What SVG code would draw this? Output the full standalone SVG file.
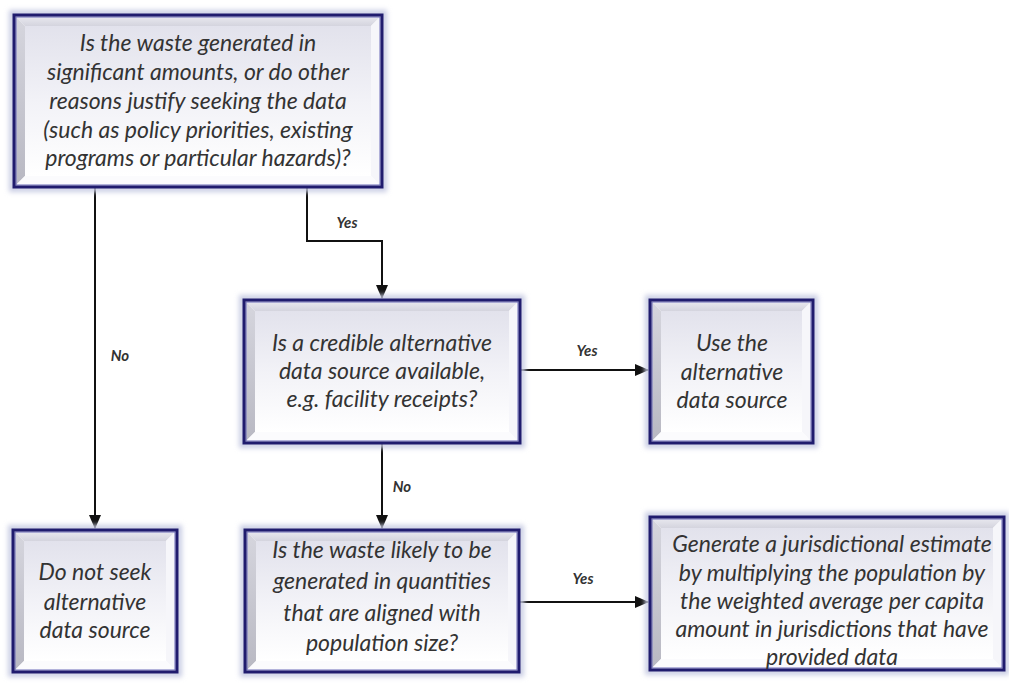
<svg xmlns="http://www.w3.org/2000/svg" width="1009" height="684" viewBox="0 0 1009 684">
  <defs>
    <linearGradient id="face" x1="0" y1="0" x2="0" y2="1">
      <stop offset="0" stop-color="#e2e2ec"/>
      <stop offset="0.5" stop-color="#f2f2f7"/>
      <stop offset="1" stop-color="#ffffff"/>
    </linearGradient>
    <linearGradient id="bevTop" x1="0" y1="0" x2="0" y2="1">
      <stop offset="0" stop-color="#ececf2"/>
      <stop offset="1" stop-color="#d4d4de"/>
    </linearGradient>
    <linearGradient id="bevLeft" x1="0" y1="0" x2="0" y2="1">
      <stop offset="0" stop-color="#d6d6de"/>
      <stop offset="1" stop-color="#b8b8c2"/>
    </linearGradient>
    <filter id="halo" x="-10%" y="-10%" width="120%" height="120%">
      <feGaussianBlur stdDeviation="2.5"/>
    </filter>
    <marker id="arrow" viewBox="0 0 14 12" refX="13" refY="6" markerWidth="14" markerHeight="12" markerUnits="userSpaceOnUse" orient="auto">
      <path d="M0,0 L14,6 L0,12 Z" fill="#111"/>
    </marker>
  </defs>
  <style>
    .halo { fill: none; stroke: #c9cde4; stroke-width: 6; filter: url(#halo); }
    .bt { fill: url(#bevTop); }
    .bl { fill: url(#bevLeft); }
    .br { fill: #f6f6fa; }
    .bb { fill: #fbfbfd; }
    .face { fill: url(#face); }
    .frame { fill: none; stroke: #201c6e; stroke-width: 3; }
    .inner { fill: none; stroke: #6a6ab8; stroke-width: 1; }
    .t { font-family: Lato, "Liberation Sans", sans-serif; font-style: italic; font-size: 23px; fill: #333; text-anchor: middle; }
    .lbl { font-family: Lato, "Liberation Sans", sans-serif; font-style: italic; font-weight: bold; font-size: 15px; fill: #333; text-anchor: middle; }
    .wire { fill: none; stroke: #111; stroke-width: 2; }
  </style>

  <rect width="1009" height="684" fill="#ffffff"/>

  <!-- connectors -->
  <g id="connectors">
    <path class="wire" d="M95,188 V528" marker-end="url(#arrow)"/>
    <path class="wire" d="M307,188 V241 H382 V298" marker-end="url(#arrow)"/>
    <path class="wire" d="M521,370 H648" marker-end="url(#arrow)"/>
    <path class="wire" d="M382,444 V528" marker-end="url(#arrow)"/>
    <path class="wire" d="M520,602 H648" marker-end="url(#arrow)"/>
    <text class="lbl" x="120" y="361">No</text>
    <text class="lbl" x="347" y="228">Yes</text>
    <text class="lbl" x="587" y="356">Yes</text>
    <text class="lbl" x="402" y="492">No</text>
    <text class="lbl" x="583" y="584">Yes</text>
  </g>

  <!-- question: significance of the waste -->
  <g id="q-significance">
    <rect class="halo" x="12" y="13" width="372" height="176"/>
    <polygon class="bt" points="14,15 382,15 371,26 25,26"/>
    <polygon class="bl" points="14,15 25,26 25,176 14,187"/>
    <polygon class="br" points="382,15 382,187 371,176 371,26"/>
    <polygon class="bb" points="14,187 25,176 371,176 382,187"/>
    <rect class="face" x="25" y="26" width="346" height="150"/>
    <rect class="inner" x="16" y="17" width="364" height="168"/>
    <rect class="frame" x="14" y="15" width="368" height="172"/>
    <text class="t" x="198" y="51">Is the waste generated in</text>
    <text class="t" x="198" y="80">significant amounts, or do other</text>
    <text class="t" x="198" y="109">reasons justify seeking the data</text>
    <text class="t" x="198" y="138">(such as policy priorities, existing</text>
    <text class="t" x="198" y="166">programs or particular hazards)?</text>
  </g>

  <!-- question: alternative data source -->
  <g id="q-alternative">
    <rect class="halo" x="242" y="298" width="280" height="147"/>
    <polygon class="bt" points="244,300 520,300 509,311 255,311"/>
    <polygon class="bl" points="244,300 255,311 255,432 244,443"/>
    <polygon class="br" points="520,300 520,443 509,432 509,311"/>
    <polygon class="bb" points="244,443 255,432 509,432 520,443"/>
    <rect class="face" x="255" y="311" width="254" height="121"/>
    <rect class="inner" x="246" y="302" width="272" height="139"/>
    <rect class="frame" x="244" y="300" width="276" height="143"/>
    <text class="t" x="382" y="351">Is a credible alternative</text>
    <text class="t" x="382" y="379">data source available,</text>
    <text class="t" x="382" y="407">e.g. facility receipts?</text>
  </g>

  <!-- outcome: use the alternative source -->
  <g id="use-alternative">
    <rect class="halo" x="648" y="298" width="167" height="147"/>
    <polygon class="bt" points="650,300 813,300 802,311 661,311"/>
    <polygon class="bl" points="650,300 661,311 661,432 650,443"/>
    <polygon class="br" points="813,300 813,443 802,432 802,311"/>
    <polygon class="bb" points="650,443 661,432 802,432 813,443"/>
    <rect class="face" x="661" y="311" width="141" height="121"/>
    <rect class="inner" x="652" y="302" width="159" height="139"/>
    <rect class="frame" x="650" y="300" width="163" height="143"/>
    <text class="t" x="732" y="351">Use the</text>
    <text class="t" x="732" y="380">alternative</text>
    <text class="t" x="732" y="408">data source</text>
  </g>

  <!-- outcome: do not seek -->
  <g id="do-not-seek">
    <rect class="halo" x="11" y="528" width="168" height="146"/>
    <polygon class="bt" points="13,530 177,530 166,541 24,541"/>
    <polygon class="bl" points="13,530 24,541 24,661 13,672"/>
    <polygon class="br" points="177,530 177,672 166,661 166,541"/>
    <polygon class="bb" points="13,672 24,661 166,661 177,672"/>
    <rect class="face" x="24" y="541" width="142" height="120"/>
    <rect class="inner" x="15" y="532" width="160" height="138"/>
    <rect class="frame" x="13" y="530" width="164" height="142"/>
    <text class="t" x="95" y="580">Do not seek</text>
    <text class="t" x="95" y="610">alternative</text>
    <text class="t" x="95" y="638">data source</text>
  </g>

  <!-- question: population alignment -->
  <g id="q-population">
    <rect class="halo" x="243" y="528" width="278" height="146"/>
    <polygon class="bt" points="245,530 519,530 508,541 256,541"/>
    <polygon class="bl" points="245,530 256,541 256,661 245,672"/>
    <polygon class="br" points="519,530 519,672 508,661 508,541"/>
    <polygon class="bb" points="245,672 256,661 508,661 519,672"/>
    <rect class="face" x="256" y="541" width="252" height="120"/>
    <rect class="inner" x="247" y="532" width="270" height="138"/>
    <rect class="frame" x="245" y="530" width="274" height="142"/>
    <text class="t" x="382" y="558">Is the waste likely to be</text>
    <text class="t" x="382" y="589">generated in quantities</text>
    <text class="t" x="382" y="621">that are aligned with</text>
    <text class="t" x="382" y="651">population size?</text>
  </g>

  <!-- outcome: jurisdictional estimate -->
  <g id="jurisdictional-estimate">
    <rect class="halo" x="648" y="515" width="358" height="157"/>
    <polygon class="bt" points="650,517 1004,517 993,528 661,528"/>
    <polygon class="bl" points="650,517 661,528 661,659 650,670"/>
    <polygon class="br" points="1004,517 1004,670 993,659 993,528"/>
    <polygon class="bb" points="650,670 661,659 993,659 1004,670"/>
    <rect class="face" x="661" y="528" width="332" height="131"/>
    <rect class="inner" x="652" y="519" width="350" height="149"/>
    <rect class="frame" x="650" y="517" width="354" height="153"/>
    <text class="t" x="832" y="552">Generate a jurisdictional estimate</text>
    <text class="t" x="832" y="581">by multiplying the population by</text>
    <text class="t" x="832" y="609">the weighted average per capita</text>
    <text class="t" x="832" y="637">amount in jurisdictions that have</text>
    <text class="t" x="832" y="665">provided data</text>
  </g>
</svg>
